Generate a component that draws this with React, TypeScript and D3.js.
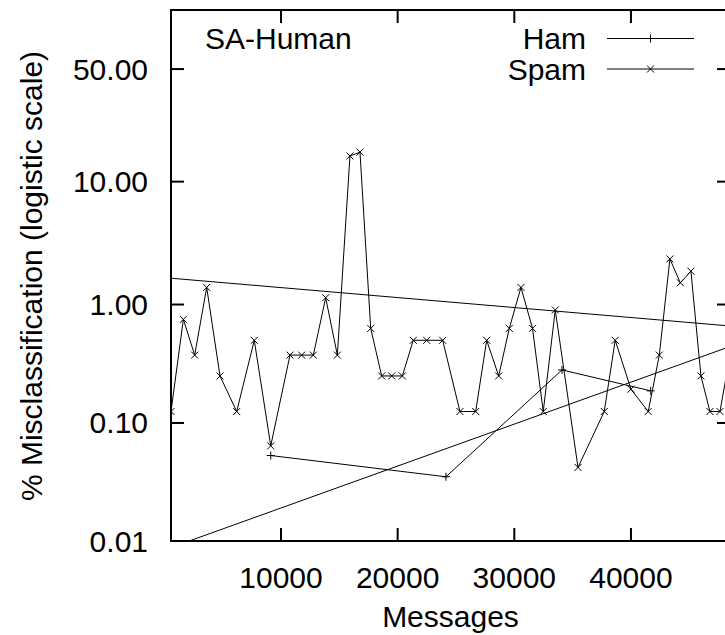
import React from "react";
import * as d3 from "d3";

const spamX = [570, 1630, 2600, 3630, 4770, 6200, 7710, 9120, 10770, 11770, 12770, 13830, 14830, 15910, 16770, 17690, 18630, 19490, 20400, 21340, 22490, 23860, 25340, 26690, 27630, 28660, 29570, 30570, 31560, 32480, 33510, 35460, 37710, 38650, 40000, 41480, 42430, 43340, 44230, 45140, 46000, 46770, 47630, 48490];
const spamY = [0.125, 0.75, 0.375, 1.39, 0.25, 0.125, 0.5, 0.064, 0.375, 0.375, 0.375, 1.14, 0.375, 15.5, 16.5, 0.63, 0.25, 0.25, 0.25, 0.5, 0.5, 0.5, 0.125, 0.125, 0.5, 0.25, 0.63, 1.39, 0.63, 0.125, 0.9, 0.042, 0.125, 0.5, 0.193, 0.125, 0.375, 2.4, 1.52, 1.9, 0.25, 0.125, 0.125, 0.375];
const hamX = [9120, 24140, 34090, 41690];
const hamY = [0.053, 0.035, 0.281, 0.187];
const trendX = [570, 48490];
const trendSpamY = [1.66, 0.66];
const trendHamY = [0.0088, 0.443];
const xTicks = [10000, 20000, 30000, 40000];
const yTicks = [0.01, 0.1, 1, 10, 50];
const yTickLabels = ["0.01", "0.10", "1.00", "10.00", "50.00"];

const W = 725, H = 635;
const L = 171, R = 730, T = 10, B = 541;
const FONT = "'Liberation Sans', Arial, Helvetica, sans-serif";
const FS = 30;

const logit = (p: number) => Math.log(p / (1 - p));

export default function App() {
  const x = d3.scaleLinear().domain([570, 48490]).range([L, R]);
  const yl = d3.scaleLinear().domain([logit(0.0001), logit(0.76)]).range([B, T]);
  const y = (pct: number) => yl(logit(pct / 100));

  const line = d3.line<[number, number]>().x(d => x(d[0])).y(d => y(d[1]));
  const spam: [number, number][] = spamX.map((v, i) => [v, spamY[i]]);
  const ham: [number, number][] = hamX.map((v, i) => [v, hamY[i]]);
  const tA: [number, number][] = trendX.map((v, i) => [v, trendSpamY[i]]);
  const tB: [number, number][] = trendX.map((v, i) => [v, trendHamY[i]]);

  const cross = (cx: number, cy: number, k: string) => (
    <path key={k} d={`M${cx - 3.5},${cy - 3.5}L${cx + 3.5},${cy + 3.5}M${cx - 3.5},${cy + 3.5}L${cx + 3.5},${cy - 3.5}`} stroke="#000" strokeWidth={1} />
  );
  const plus = (cx: number, cy: number, k: string) => (
    <path key={k} d={`M${cx - 4},${cy}L${cx + 4},${cy}M${cx},${cy - 4}L${cx},${cy + 4}`} stroke="#000" strokeWidth={1} />
  );

  return (
    <svg width={W} height={H} style={{ position: "absolute", left: 0, top: 0, background: "#fff" }} fontFamily={FONT}>
      <defs>
        <clipPath id="plot"><rect x={L} y={T} width={R - L} height={B - T} /></clipPath>
      </defs>
      <rect x={0} y={0} width={W} height={H} fill="#fff" />
      <g clipPath="url(#plot)" fill="none">
        <path d={line(tA) || ""} stroke="#000" strokeWidth={1} />
        <path d={line(tB) || ""} stroke="#000" strokeWidth={1} />
        <path d={line(ham) || ""} stroke="#000" strokeWidth={1} />
        {ham.map((d, i) => plus(x(d[0]), y(d[1]), "h" + i))}
        <path d={line(spam) || ""} stroke="#000" strokeWidth={1} />
        {spam.map((d, i) => cross(x(d[0]), y(d[1]), "s" + i))}
      </g>
      <rect x={L} y={T} width={R - L} height={B - T} fill="none" stroke="#000" strokeWidth={2} />
      {yTicks.map((t, i) => (
        <g key={"yt" + i}>
          <line x1={L} x2={L + 13} y1={y(t)} y2={y(t)} stroke="#000" strokeWidth={2} />
          <line x1={R} x2={R - 13} y1={y(t)} y2={y(t)} stroke="#000" strokeWidth={2} />
          <text x={148} y={y(t)} dy="0.35em" textAnchor="end" fontSize={FS}>{yTickLabels[i]}</text>
        </g>
      ))}
      {xTicks.map((t, i) => (
        <g key={"xt" + i}>
          <line x1={x(t)} x2={x(t)} y1={B} y2={B - 13} stroke="#000" strokeWidth={2} />
          <line x1={x(t)} x2={x(t)} y1={T} y2={T + 13} stroke="#000" strokeWidth={2} />
          <text x={x(t)} y={588} textAnchor="middle" fontSize={FS}>{String(t)}</text>
        </g>
      ))}
      <text x={(L + R) / 2} y={627} textAnchor="middle" fontSize={FS}>Messages</text>
      <text transform={`translate(42,276) rotate(-90)`} textAnchor="middle" fontSize={FS}>% Misclassification (logistic scale)</text>
      <text x={205} y={49} fontSize={FS}>SA-Human</text>
      <text x={586} y={38} dy="0.35em" textAnchor="end" fontSize={FS}>Ham</text>
      <line x1={607} x2={694} y1={38.5} y2={38.5} stroke="#000" strokeWidth={1} />
      {plus(650.5, 38.5, "lh")}
      <text x={586} y={69} dy="0.35em" textAnchor="end" fontSize={FS}>Spam</text>
      <line x1={607} x2={694} y1={69} y2={69} stroke="#000" strokeWidth={1} />
      {cross(650.5, 69, "ls")}
    </svg>
  );
}
